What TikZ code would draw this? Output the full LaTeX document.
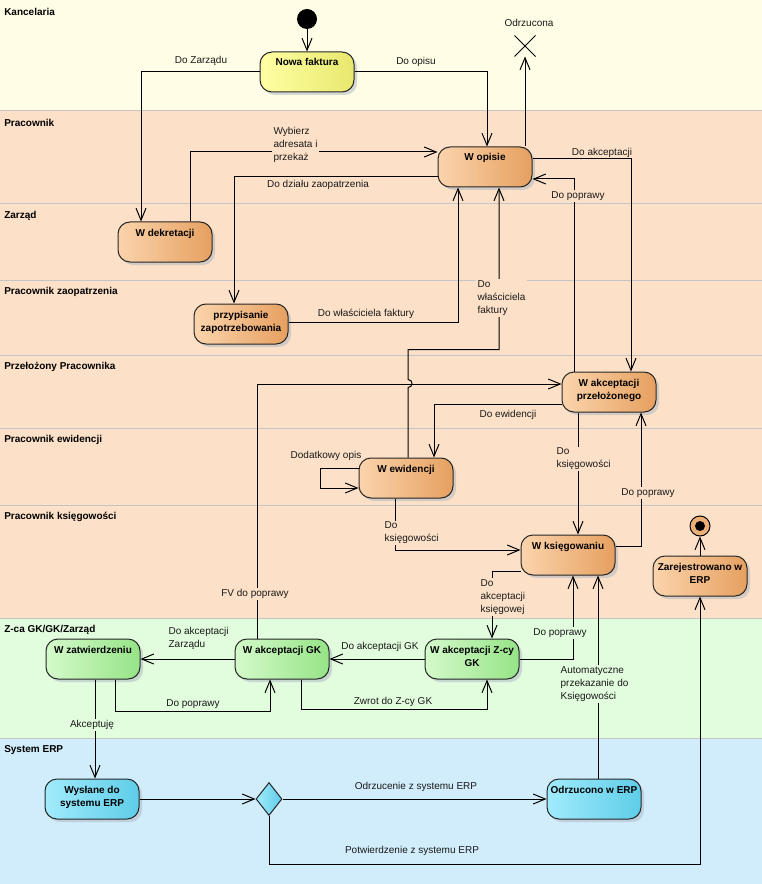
\documentclass[tikz,border=0pt]{standalone}
\usepackage{fontspec}
\setmainfont{Liberation Sans}
\usetikzlibrary{shapes.geometric, shapes.misc, arrows.meta, calc, shadows}
\definecolor{laneyel}{RGB}{255, 253, 229}
\definecolor{lanepch}{RGB}{252, 225, 200}
\definecolor{lanegrn}{RGB}{226, 252, 222}
\definecolor{laneblu}{RGB}{209, 236, 251}
\definecolor{lanesep}{RGB}{196, 196, 196}
\definecolor{yelL}{RGB}{255, 255, 165}
\definecolor{yelR}{RGB}{232, 232, 110}
\definecolor{orgL}{RGB}{251, 212, 172}
\definecolor{orgR}{RGB}{230, 160, 96}
\definecolor{grnL}{RGB}{212, 250, 202}
\definecolor{grnR}{RGB}{150, 228, 135}
\definecolor{cyaL}{RGB}{160, 235, 252}
\definecolor{cyaR}{RGB}{95, 205, 232}
\definecolor{shad}{RGB}{172, 180, 194}

\begin{document}
\begin{tikzpicture}[x=0.75pt, y=-0.75pt,
  every node/.style={font=\fontsize{7.5}{9.75}\selectfont},
  snode/.style={draw=black!85, line width=0.75pt, rounded corners=9pt, minimum width=70.5pt, minimum height=30pt,
    inner sep=0pt, align=center, text height=9pt, text depth=18pt, font=\fontsize{7.5}{9.75}\selectfont\bfseries,
    drop shadow={shadow xshift=2.25pt, shadow yshift=-2.25pt, fill=shad}},
  twoline/.style={text height=18.75pt, text depth=8.25pt},
  syel/.style={snode, left color=yelL, right color=yelR},
  sorg/.style={snode, left color=orgL, right color=orgR},
  sgrn/.style={snode, left color=grnL, right color=grnR},
  scya/.style={snode, left color=cyaL, right color=cyaR},
  arr/.style={line width=0.75pt, -{Straight Barb[length=9pt, width=7.5pt]}},
  lbl/.style={inner sep=1pt, text=black!90},
  lblm/.style={lbl, align=left, anchor=west},
  lanelbl/.style={anchor=west, inner sep=0pt, font=\fontsize{7.5}{9.75}\selectfont\bfseries}
]
  \useasboundingbox (0,0) rectangle (762,884);

  % swimlanes
  \foreach \yt/\yb/\col/\nm [count=\i] in {0/111/laneyel/Kancelaria, 111/204/lanepch/Pracownik,
      204/280/lanepch/Zarząd, 280/355/lanepch/Pracownik zaopatrzenia, 355/428/lanepch/Przełożony Pracownika,
      428/505/lanepch/Pracownik ewidencji, 505/618/lanepch/Pracownik księgowości,
      618/738/lanegrn/{Z-ca GK/GK/Zarząd}, 738/884/laneblu/System ERP}{
    \fill[\col] (0,\yt) rectangle (762,\yb);
    \draw[lanesep, line width=0.75pt] (0,\yt) -- (762,\yt);
    \node[lanelbl] (lane\i) at (4,\yt+12) {\nm};
  }

  % states
  \node[circle, fill=black, minimum size=15pt, inner sep=0pt] (start) at (307,19) {};
  \node[syel] (nowa) at (307,72) {Nowa faktura};
  \node[sorg] (opis) at (485,167) {W opisie};
  \node[sorg] (dekr) at (165,242) {W dekretacji};
  \node[sorg, twoline] (zapo) at (241,324) {przypisanie\\zapotrzebowania};
  \node[sorg, twoline] (przel) at (609,392) {W akceptacji\\przełożonego};
  \node[sorg] (ewid) at (406,478) {W ewidencji};
  \node[sorg] (ksieg) at (568,555) {W księgowaniu};
  \node[sorg, twoline] (zarej) at (700,576) {Zarejestrowano w\\ERP};
  \node[sgrn] (zatw) at (93,659) {W zatwierdzeniu};
  \node[sgrn] (akgk) at (282,659) {W akceptacji GK};
  \node[sgrn, twoline] (akzc) at (472,659) {W akceptacji Z-cy\\GK};
  \node[scya, twoline] (wysl) at (92,799) {Wysłane do\\systemu ERP};
  \node[scya] (odrz) at (594,799) {Odrzucono w ERP};
  \node[diamond, draw=black!85, line width=0.75pt, left color=cyaL, right color=cyaR, inner sep=0pt,
    minimum width=19.5pt, minimum height=24.75pt] (dec) at (269,799) {};
  \node[cross out, draw, line width=0.75pt, minimum size=15pt, inner sep=0pt] (rej) at (525,46) {};
  \node[circle, draw=black, line width=0.75pt, fill=orgR!70!orgL, minimum size=15pt, inner sep=0pt] (fin) at (700,526) {};
  \fill[black] (fin.center) circle[radius=3.75pt];

  % transitions
  \draw[arr] (start) -- (nowa);
  \draw[arr] (nowa.west) -| ($(dekr.north)+(-24,0)$);
  \draw[arr] (nowa.east) -| ($(opis.north)+(2,0)$);
  \draw[arr] (opis.north -| rej) -- (rej.south);
  \draw[arr] ($(dekr.north)+(25,0)$) |- ($(opis.west)+(0,-15)$);
  \draw[arr] ($(opis.west)+(0,10)$) -| ($(zapo.north)+(-7,0)$);
  \draw[arr] ($(zapo.east)+(0,-2)$) -| ($(opis.south)+(-27,0)$);
  \draw[arr] ($(akgk.north)+(-25,0)$) |- ($(przel.west)+(0,-8)$);
  \draw[arr] ($(ewid.north)+(2,0)$) -- ++(0,-70) .. controls +(5.3,0) and +(5.3,0) .. ++(0,-8)
    -- ++(0,-30) -| ($(opis.south)+(14,0)$);
  \draw[arr] ($(opis.east)+(0,-8)$) -| ($(przel.north)+(22,0)$);
  \draw[arr] ($(przel.north)+(-35,0)$) |- ($(opis.east)+(0,12)$);
  \draw[arr] ($(przel.west)+(0,12)$) -| ($(ewid.north)+(28,0)$);
  \draw[arr] ($(przel.south)+(-31,0)$) -- ($(ksieg.north)+(10,0)$);
  \draw[arr] ($(ksieg.east)+(0,-9)$) -| ($(przel.south)+(32,0)$);
  \draw[arr] ($(ewid.west)+(0,-10)$) -- ++(-38,0) -- ++(0,20) -- ($(ewid.west)+(0,10)$);
  \draw[arr] ($(ewid.south)+(-11,0)$) |- ($(ksieg.west)+(0,-5)$);
  \draw[arr] (zarej) -- (fin);
  \draw[arr] ($(ksieg.west)+(0,16)$) -| ($(akzc.north)+(20,0)$);
  \draw[arr] (akzc.east) -| ($(ksieg.south)+(5,0)$);
  \draw[arr] ($(odrz.north)+(4,0)$) -- ($(ksieg.south)+(30,0)$);
  \draw[arr] (akzc.west) -- (akgk.east);
  \draw[arr] ($(akgk.south)+(19,0)$) -- ++(0,30) -| ($(akzc.south)+(15,0)$);
  \draw[arr] (akgk.west) -- (zatw.east);
  \draw[arr] ($(zatw.south)+(22,0)$) -- ++(0,32) -| ($(akgk.south)+(-12,0)$);
  \draw[arr] ($(zatw.south)+(2,0)$) -- ($(wysl.north)+(3,0)$);
  \draw[arr] (wysl.east) -- (dec.west);
  \draw[arr] (dec.east) -- (odrz.west);
  \draw[arr] (dec.south) -- ++(0,48) -| (zarej.south);

  % labels
  \node[lbl] (l1) at (201,61) {Do Zarządu};
  \node[lbl] (l2) at (416,62) {Do opisu};
  \node[lbl] (l3) at (529,23) {Odrzucona};
  \node[lblm, fill=lanepch] (l4) at (272,145) {Wybierz\\adresata i\\przekaż};
  \node[lbl] (l5) at (318,185) {Do działu zaopatrzenia};
  \node[lbl] (l6) at (366,314) {Do właściciela faktury};
  \node[lblm, fill=lanepch] (l7) at (476,298) {Do\\właściciela\\faktury};
  \node[lbl] (l8) at (602,153) {Do akceptacji};
  \node[lbl, fill=lanepch] (l9) at (578,196) {Do poprawy};
  \node[lbl, fill=lanepch] (l10) at (255,594) {FV do poprawy};
  \node[lbl] (l11) at (508,415) {Do ewidencji};
  \node[lblm, fill=lanepch] (l12) at (555,459) {Do\\księgowości};
  \node[lbl, fill=lanepch] (l13) at (648,493) {Do poprawy};
  \node[lbl] (l14) at (326,456) {Dodatkowy opis};
  \node[lblm, fill=lanepch] (l15) at (383,533) {Do\\księgowości};
  \node[lblm, fill=lanepch] (l16) at (479,597) {Do\\akceptacji\\księgowej};
  \node[lbl, fill=lanegrn] (l17) at (560,633) {Do poprawy};
  \node[lblm, fill=lanegrn] (l18) at (559,684) {Automatyczne\\przekazanie do\\Księgowości};
  \node[lbl] (l19) at (380,647) {Do akceptacji GK};
  \node[lbl] (l20) at (393,702) {Zwrot do Z-cy GK};
  \node[lblm] (l21) at (167,638) {Do akceptacji\\Zarządu};
  \node[lbl] (l22) at (193,704) {Do poprawy};
  \node[lbl, fill=lanegrn] (l23) at (92,725) {Akceptuję};
  \node[lbl] (l24) at (416,787) {Odrzucenie z systemu ERP};
  \node[lbl] (l25) at (412,851) {Potwierdzenie z systemu ERP};
\end{tikzpicture}
\end{document}
